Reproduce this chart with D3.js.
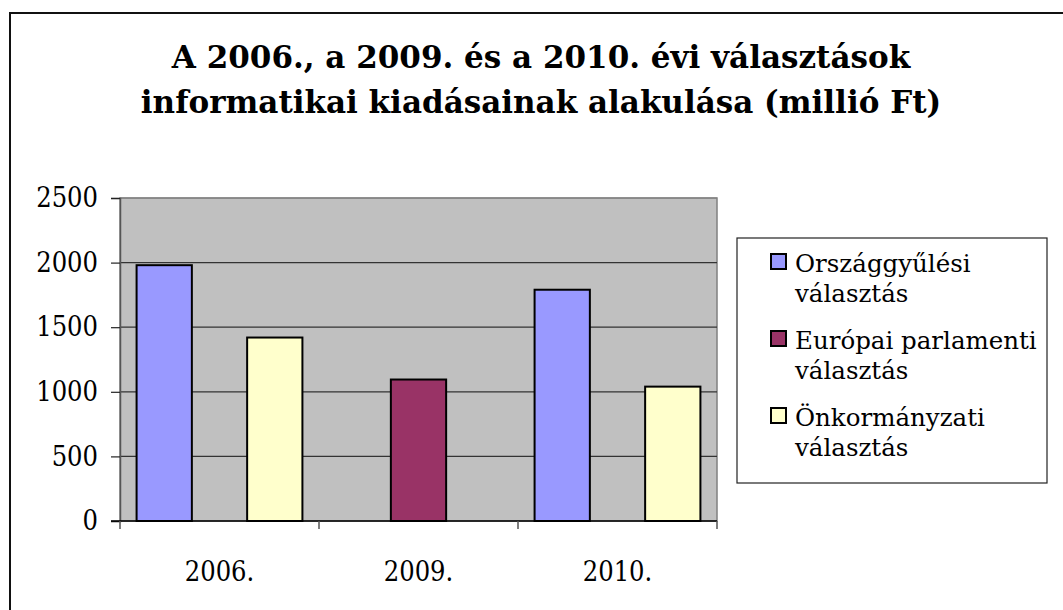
<!DOCTYPE html>
<html>
<head>
<meta charset="utf-8">
<script src="https://cdn.jsdelivr.net/npm/d3@7"></script>
<style>
  body { margin: 0; background: #fff; }
  svg text { font-family: "DejaVu Serif", serif; fill: #000; }
</style>
</head>
<body>
<svg id="chart"></svg>
<script>
var width = 1063, height = 610;

var titleLines = ["A 2006., a 2009. és a 2010. évi választások",
                  "informatikai kiadásainak alakulása (millió Ft)"];
var categories = ["2006.", "2009.", "2010."];
var seriesNames = [["Országgyűlési", "választás"],
                   ["Európai parlamenti", "választás"],
                   ["Önkormányzati", "választás"]];
var seriesKeys = ["orszag", "europai", "onkorm"];
var seriesColors = ["#9999ff", "#993366", "#ffffcc"];
var orszag = [1980, null, 1790];
var europai = [null, 1095, null];
var onkorm = [1420, null, 1040];
var yTicks = [0, 500, 1000, 1500, 2000, 2500];

var values = { orszag: orszag, europai: europai, onkorm: onkorm };

var svg = d3.select("#chart").attr("width", width).attr("height", height);

// outer frame (right and bottom run off the picture)
svg.append("rect")
  .attr("x", 10).attr("y", 13)
  .attr("width", 1200).attr("height", 800)
  .attr("fill", "none").attr("stroke", "#111").attr("stroke-width", 2);

// title
svg.selectAll(".title").data(titleLines).enter()
  .append("text").attr("class", "title")
  .attr("x", 541)
  .attr("y", function(d, i) { return 68 + i * 45; })
  .attr("text-anchor", "middle")
  .attr("font-size", 31)
  .attr("font-weight", "bold")
  .text(function(d) { return d; });

var plotLeft = 120, plotRight = 717, plotTop = 198, plotBottom = 521;

var x0 = d3.scaleBand().domain(categories).range([plotLeft, plotRight]).paddingInner(0).paddingOuter(0);
var x1 = d3.scaleBand().domain(seriesKeys).range([0, x0.bandwidth()]).paddingInner(0).paddingOuter(0.3);
var y = d3.scaleLinear().domain([0, 2500]).range([plotBottom, plotTop]);

// plot area
svg.append("rect")
  .attr("x", plotLeft).attr("y", plotTop)
  .attr("width", plotRight - plotLeft).attr("height", plotBottom - plotTop)
  .attr("fill", "#c0c0c0")
  .attr("stroke", "#808080").attr("stroke-width", 1.5);

// gridlines
svg.selectAll(".grid").data(yTicks.slice(1)).enter()
  .append("line").attr("class", "grid")
  .attr("x1", plotLeft).attr("x2", plotRight)
  .attr("y1", function(d) { return y(d); })
  .attr("y2", function(d) { return y(d); })
  .attr("stroke", function(d) { return d === 2500 ? "#808080" : "#333"; })
  .attr("stroke-width", 1.2);

// y axis
var yAxis = svg.append("g")
  .attr("transform", "translate(" + plotLeft + ",0)")
  .call(d3.axisLeft(y).tickValues(yTicks).tickSize(9).tickPadding(13).tickFormat(d3.format("d")));
yAxis.select(".domain").attr("stroke", "#555").attr("stroke-width", 1.5);
yAxis.selectAll(".tick line").attr("stroke", "#222").attr("stroke-width", 1.2);
yAxis.selectAll("text")
  .attr("font-family", "DejaVu Serif Condensed, DejaVu Serif, serif")
  .attr("font-stretch", "condensed")
  .attr("font-size", 27)
  .attr("fill", "#000");

// bars
var groups = svg.selectAll(".cat").data(categories).enter()
  .append("g").attr("class", "cat")
  .attr("transform", function(d) { return "translate(" + x0(d) + ",0)"; });

groups.selectAll("rect")
  .data(function(d, i) {
    return seriesKeys.map(function(k, j) { return { key: k, idx: j, value: values[k][i] }; })
      .filter(function(e) { return e.value != null; });
  })
  .enter().append("rect")
  .attr("x", function(d) { return x1(d.key); })
  .attr("width", x1.bandwidth())
  .attr("y", function(d) { return y(d.value); })
  .attr("height", function(d) { return y(0) - y(d.value); })
  .attr("fill", function(d) { return seriesColors[d.idx]; })
  .attr("stroke", "#000").attr("stroke-width", 2);

// x axis
var xTickPos = categories.map(function(c) { return x0(c); }).concat([plotRight]);
svg.append("line")
  .attr("x1", plotLeft - 9).attr("x2", plotRight)
  .attr("y1", plotBottom).attr("y2", plotBottom)
  .attr("stroke", "#000").attr("stroke-width", 1.5);
svg.selectAll(".xtick").data(xTickPos).enter()
  .append("line").attr("class", "xtick")
  .attr("x1", function(d) { return d; }).attr("x2", function(d) { return d; })
  .attr("y1", plotBottom).attr("y2", plotBottom + 8)
  .attr("stroke", "#555").attr("stroke-width", 1.5);
svg.selectAll(".xlabel").data(categories).enter()
  .append("text").attr("class", "xlabel")
  .attr("x", function(d) { return x0(d) + x0.bandwidth() / 2; })
  .attr("y", 581)
  .attr("text-anchor", "middle")
  .attr("font-family", "DejaVu Serif Condensed, DejaVu Serif, serif")
  .attr("font-stretch", "condensed")
  .attr("font-size", 27)
  .text(function(d) { return d; });

// legend
var legend = svg.append("g");
legend.append("rect")
  .attr("x", 737).attr("y", 238)
  .attr("width", 310).attr("height", 245)
  .attr("fill", "#fff").attr("stroke", "#222").attr("stroke-width", 1.2);

var items = legend.selectAll(".item").data(seriesNames).enter()
  .append("g").attr("class", "item")
  .attr("transform", function(d, i) { return "translate(0," + (i * 77) + ")"; });
items.append("rect")
  .attr("x", 771).attr("y", 254)
  .attr("width", 15).attr("height", 15)
  .attr("fill", function(d, i) { return seriesColors[i]; })
  .attr("stroke", "#000").attr("stroke-width", 2);
items.append("text")
  .attr("x", 795).attr("y", 272)
  .attr("font-size", 24.5)
  .selectAll("tspan").data(function(d) { return d; }).enter()
  .append("tspan")
  .attr("x", 795)
  .attr("dy", function(d, i) { return i === 0 ? 0 : 30; })
  .text(function(d) { return d; });
</script>
</body>
</html>
